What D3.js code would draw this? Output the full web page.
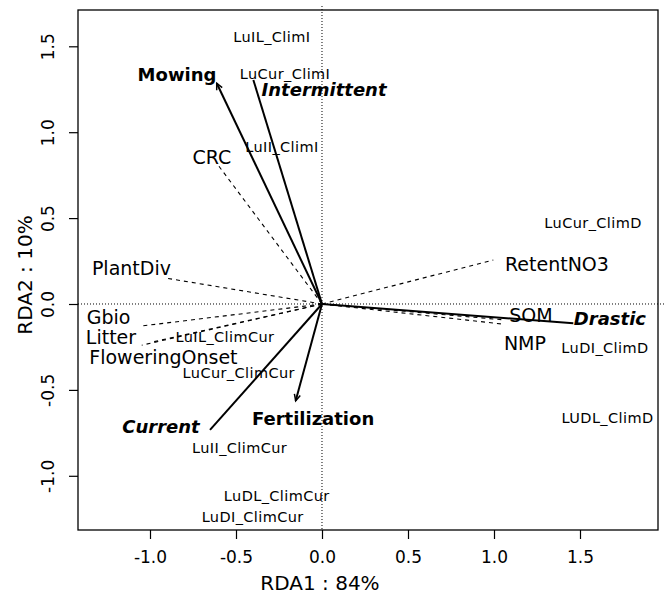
<!DOCTYPE html>
<html>
<head>
<meta charset="utf-8">
<script src="https://cdn.jsdelivr.net/npm/d3@7"></script>
<style>
  html, body { margin: 0; padding: 0; background: #fff; }
  svg { display: block; }
  text { font-family: "DejaVu Sans", Verdana, sans-serif; fill: #000; }
</style>
</head>
<body>
<svg id="chart" width="669" height="597"></svg>
<script>
// ---- Data (RDA biplot scores) ----
// Treatment / factor vectors (solid)
const factorNames   = ["Mowing", "Intermittent", "Fertilization", "Current", "Drastic"];
const factorX       = [-0.612, -0.399, -0.153, -0.651, 1.461];
const factorY       = [ 1.285,  1.304, -0.563, -0.733, -0.112];
const factorArrow   = [true, false, true, false, false];
const factorItalic  = [false, true, false, true, true];
const factorLabelX  = [-0.843, 0.012, -0.052, -0.936, 1.674];
const factorLabelY  = [ 1.333, 1.246, -0.669, -0.716, -0.087];

// Response variable vectors (dashed)
const respNames  = ["CRC", "PlantDiv", "Gbio", "Litter", "FloweringOnset", "RetentNO3", "SOM", "NMP"];
const respX      = [-0.612, -0.903, -1.048, -1.048, -0.980, 0.996, 1.064, 1.052];
const respY      = [ 0.819,  0.150, -0.128, -0.240, -0.220, 0.256, -0.093, -0.117];
const respLabelX = [-0.640, -1.108, -1.241, -1.227, -0.922, 1.366, 1.215, 1.180];
const respLabelY = [ 0.856,  0.210, -0.076, -0.192, -0.308, 0.233, -0.064, -0.227];

// Site scores (labels)
const siteNames = ["LuIL_ClimI", "LuCur_ClimI", "LuII_ClimI", "LuCur_ClimD", "LuDI_ClimD", "LUDL_ClimD",
                   "LuIL_ClimCur", "LuCur_ClimCur", "LuII_ClimCur", "LuDL_ClimCur", "LuDI_ClimCur"];
const siteX = [-0.292, -0.215, -0.233, 1.576, 1.645, 1.660, -0.564, -0.484, -0.479, -0.263, -0.403];
const siteY = [ 1.556,  1.339,  0.916, 0.473, -0.258, -0.665, -0.194, -0.400, -0.840, -1.118, -1.238];

// Axes
const xTicks = [-1.0, -0.5, 0.0, 0.5, 1.0, 1.5];
const yTicks = [-1.0, -0.5, 0.0, 0.5, 1.0, 1.5];
const xDomain = [-1.4186, 1.9535];
const yDomain = [-1.3155, 1.7113];
const xTitle = "RDA1 : 84%";
const yTitle = "RDA2 : 10%";

// ---- Layout ----
const plot = { left: 78, right: 658, top: 10, bottom: 530 };
const svg = d3.select("#chart");
const x = d3.scaleLinear().domain(xDomain).range([plot.left, plot.right]);
const y = d3.scaleLinear().domain(yDomain).range([plot.bottom, plot.top]);

// Zero reference lines (dotted)
svg.append("line")
  .attr("x1", x(0)).attr("x2", x(0))
  .attr("y1", plot.top - 4).attr("y2", plot.bottom)
  .attr("stroke", "#000").attr("stroke-width", 1).attr("stroke-dasharray", "1,2");
svg.append("line")
  .attr("x1", plot.left).attr("x2", plot.right + 6)
  .attr("y1", y(0)).attr("y2", y(0))
  .attr("stroke", "#000").attr("stroke-width", 1).attr("stroke-dasharray", "1,2");

// Box
svg.append("rect")
  .attr("x", plot.left).attr("y", plot.top)
  .attr("width", plot.right - plot.left).attr("height", plot.bottom - plot.top)
  .attr("fill", "none").attr("stroke", "#000").attr("stroke-width", 1.3);

// Axes
const fmt = d => d3.format(".1f")(d).replace("−", "-");
const xAxis = d3.axisBottom(x).tickValues(xTicks).tickFormat(fmt).tickSize(9).tickPadding(12);
const gx = svg.append("g").attr("transform", `translate(0,${plot.bottom})`).call(xAxis);
gx.select(".domain").remove();
gx.selectAll("text").style("font-size", "17px").style("font-family", "DejaVu Sans, Verdana, sans-serif");
gx.selectAll("line").attr("stroke-width", 1.2);

const yAxis = d3.axisLeft(y).tickValues(yTicks).tickFormat(fmt).tickSize(9);
const gy = svg.append("g").attr("transform", `translate(${plot.left},0)`).call(yAxis);
gy.select(".domain").remove();
gy.selectAll("line").attr("stroke-width", 1.2);
gy.selectAll("text")
  .attr("x", null).attr("dy", null)
  .attr("text-anchor", "middle")
  .attr("transform", "translate(-30,0) rotate(-90)")
  .attr("dy", "0.35em")
  .style("font-size", "17px").style("font-family", "DejaVu Sans, Verdana, sans-serif");

// Axis titles
svg.append("text").attr("x", x(0) - 2).attr("y", 583).attr("dy", "0.35em")
  .attr("text-anchor", "middle").style("font-size", "20px").text(xTitle);
svg.append("text").attr("transform", `translate(25,${(plot.top + plot.bottom) / 2 + 5}) rotate(-90)`)
  .attr("dy", "0.35em").attr("text-anchor", "middle").style("font-size", "20px").text(yTitle);

// Response vectors (dashed)
const resp = respNames.map((n, i) => ({ n, x: respX[i], y: respY[i], lx: respLabelX[i], ly: respLabelY[i] }));
svg.append("g").selectAll("line").data(resp).join("line")
  .attr("x1", x(0)).attr("y1", y(0))
  .attr("x2", d => x(d.x)).attr("y2", d => y(d.y))
  .attr("stroke", "#000").attr("stroke-width", 1.1).attr("stroke-dasharray", "4,4");
svg.append("g").selectAll("text").data(resp).join("text")
  .attr("x", d => x(d.lx)).attr("y", d => y(d.ly)).attr("dy", "0.35em")
  .attr("text-anchor", "middle").style("font-size", "19px").text(d => d.n);

// Factor vectors (solid)
const fac = factorNames.map((n, i) => ({ n, x: factorX[i], y: factorY[i], arrow: factorArrow[i],
  italic: factorItalic[i], lx: factorLabelX[i], ly: factorLabelY[i] }));
const gf = svg.append("g");
gf.selectAll("line.vec").data(fac).join("line").attr("class", "vec")
  .attr("x1", x(0)).attr("y1", y(0))
  .attr("x2", d => x(d.x)).attr("y2", d => y(d.y))
  .attr("stroke", "#000").attr("stroke-width", 2);
// arrow heads
const headLen = 7, headAng = Math.PI / 7;
gf.selectAll("path.head").data(fac.filter(d => d.arrow)).join("path").attr("class", "head")
  .attr("d", d => {
    const x2 = x(d.x), y2 = y(d.y);
    const a = Math.atan2(y2 - y(0), x2 - x(0));
    const p1 = [x2 - headLen * Math.cos(a - headAng), y2 - headLen * Math.sin(a - headAng)];
    const p2 = [x2 - headLen * Math.cos(a + headAng), y2 - headLen * Math.sin(a + headAng)];
    return `M${p1[0]},${p1[1]}L${x2},${y2}L${p2[0]},${p2[1]}`;
  })
  .attr("fill", "none").attr("stroke", "#000").attr("stroke-width", 1.5);
gf.selectAll("text").data(fac).join("text")
  .attr("x", d => x(d.lx)).attr("y", d => y(d.ly)).attr("dy", "0.35em")
  .attr("text-anchor", "middle")
  .style("font-size", "18px").style("font-weight", "bold")
  .style("font-style", d => d.italic ? "italic" : "normal")
  .text(d => d.n);

// Site labels
const sites = siteNames.map((n, i) => ({ n, x: siteX[i], y: siteY[i] }));
svg.append("g").selectAll("text").data(sites).join("text")
  .attr("x", d => x(d.x)).attr("y", d => y(d.y)).attr("dy", "0.35em")
  .attr("text-anchor", "middle").style("font-size", "14.5px").style("letter-spacing", "0.4px")
  .text(d => d.n);
</script>
</body>
</html>
